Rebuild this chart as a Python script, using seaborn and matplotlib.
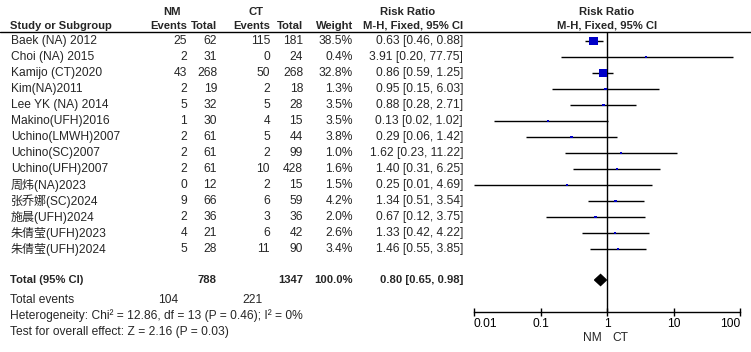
import matplotlib
matplotlib.use("Agg")
import matplotlib.pyplot as plt
import seaborn as sns
import numpy as np
import pandas as pd

# ---------------- data ----------------
studies = ["Baek (NA) 2012", "Choi (NA) 2015", "Kamijo (CT)2020", "Kim(NA)2011",
           "Lee YK (NA) 2014", "Makino(UFH)2016", "Uchino(LMWH)2007", "Uchino(SC)2007",
           "Uchino(UFH)2007", "周炜(NA)2023", "张乔娜(SC)2024", "施晨(UFH)2024",
           "朱倩莹(UFH)2023", "朱倩莹(UFH)2024"]
nm_events = [25, 2, 43, 2, 5, 1, 2, 2, 2, 0, 9, 2, 4, 5]
nm_total = [62, 31, 268, 19, 32, 30, 61, 61, 61, 12, 66, 36, 21, 28]
ct_events = [115, 0, 50, 2, 5, 4, 5, 2, 10, 2, 6, 3, 6, 11]
ct_total = [181, 24, 268, 18, 28, 15, 44, 99, 428, 15, 59, 36, 42, 90]
weights = [38.5, 0.4, 32.8, 1.3, 3.5, 3.5, 3.8, 1.0, 1.6, 1.5, 4.2, 2.0, 2.6, 3.4]
rr = [0.63, 3.91, 0.86, 0.95, 0.88, 0.13, 0.29, 1.62, 1.40, 0.25, 1.34, 0.67, 1.33, 1.46]
ci_lo = [0.46, 0.20, 0.59, 0.15, 0.28, 0.02, 0.06, 0.23, 0.31, 0.01, 0.51, 0.12, 0.42, 0.55]
ci_hi = [0.88, 77.75, 1.25, 6.03, 2.71, 1.02, 1.42, 11.22, 6.25, 4.69, 3.54, 3.75, 4.22, 3.85]

total_nm = 788
total_ct = 1347
total_weight = "100.0%"
total_rr, total_lo, total_hi = 0.80, 0.65, 0.98
events_nm = 104
events_ct = 221
heterogeneity = "Heterogeneity: Chi² = 12.86, df = 13 (P = 0.46); I² = 0%"
overall = "Test for overall effect: Z = 2.16 (P = 0.03)"
xticks = [0.01, 0.1, 1, 10, 100]
xtick_labels = ["0.01", "0.1", "1", "10", "100"]
favours = ["NM", "CT"]

# ---------------- style ----------------
sns.set_style("white")
plt.rcParams["font.family"] = ["Liberation Sans", "Noto Sans CJK SC", "DejaVu Sans"]
FS = 8.65
FSB = 8.1
W, H = 751, 352
fig = plt.figure(figsize=(W / 100, H / 100), dpi=100)
fig.patch.set_facecolor("white")

tab = fig.add_axes([0, 0, 1, 1])
tab.set_xlim(0, W)
tab.set_ylim(H, 0)
tab.axis("off")

row0, step = 41, 16
ys = [row0 + step * i for i in range(len(studies))]

# header
hdr_y1, hdr_y2, line_y = 12, 26, 32
bold = dict(fontsize=FSB, fontweight="bold", va="center")
tab.text(172, hdr_y1, "NM", ha="center", **bold)
tab.text(256, hdr_y1, "CT", ha="center", **bold)
tab.text(408, hdr_y1, "Risk Ratio", ha="center", **bold)
tab.text(607, hdr_y1, "Risk Ratio", ha="center", **bold)
tab.text(10, hdr_y2, "Study or Subgroup", ha="left", **bold)
col_x = [187, 217, 270, 303, 353]
for x, lab in zip(col_x, ["Events", "Total", "Events", "Total", "Weight"]):
    tab.text(x, hdr_y2, lab, ha="right", **bold)
tab.text(463, hdr_y2, "M-H, Fixed, 95% CI", ha="right", **bold)
tab.text(607, hdr_y2, "M-H, Fixed, 95% CI", ha="center", **bold)
tab.plot([0, W], [line_y, line_y], color="black", lw=1.0)

norm = dict(fontsize=FS, va="center")
for i, y in enumerate(ys):
    tab.text(11, y, studies[i], ha="left", **norm)
    tab.text(187, y, str(nm_events[i]), ha="right", **norm)
    tab.text(217, y, str(nm_total[i]), ha="right", **norm)
    tab.text(270, y, str(ct_events[i]), ha="right", **norm)
    tab.text(303, y, str(ct_total[i]), ha="right", **norm)
    tab.text(353, y, f"{weights[i]:.1f}%", ha="right", **norm)
    tab.text(463, y, f"{rr[i]:.2f} [{ci_lo[i]:.2f}, {ci_hi[i]:.2f}]", ha="right", **norm)

tot_y = 280
tab.text(10, tot_y, "Total (95% CI)", ha="left", **bold)
tab.text(217, tot_y, str(total_nm), ha="right", **bold)
tab.text(303, tot_y, str(total_ct), ha="right", **bold)
tab.text(353, tot_y, total_weight, ha="right", **bold)
tab.text(463, tot_y, f"{total_rr:.2f} [{total_lo:.2f}, {total_hi:.2f}]", ha="right", **bold)
tab.text(10, 300, "Total events", ha="left", **norm)
tab.text(178, 300, str(events_nm), ha="right", **norm)
tab.text(263, 300, str(events_ct), ha="right", **norm)
tab.text(10, 316, heterogeneity, ha="left", **norm)
tab.text(10, 332, overall, ha="left", **norm)

# ---------------- forest panel ----------------
fax = fig.add_axes([474 / W, 0, 266 / W, 1])
fax.set_facecolor("none")
fax.set_xscale("log")
fax.set_xlim(xticks[0], xticks[-1])
fax.set_ylim(H, 0)
for s in ["left", "right", "top"]:
    fax.spines[s].set_visible(False)
axis_y = 312
fax.spines["bottom"].set_position(("data", axis_y))
fax.spines["bottom"].set_linewidth(1.0)
fax.spines["bottom"].set_color("black")
fax.set_yticks([])
fax.set_xticks(xticks)
fax.set_xticklabels(xtick_labels)
fax.minorticks_off()
fax.tick_params(axis="x", which="major", bottom=True, direction="inout", length=6,
                width=1.0, pad=1.0, labelsize=FS, color="black", labelcolor="black")
labs = fax.get_xticklabels()
labs[0].set_ha("left")
labs[-1].set_ha("right")

fax.vlines(1, line_y, axis_y, color="black", lw=1.0)
fax.hlines(ys, ci_lo, ci_hi, color="black", lw=1.0)

side_px = [max(2.2, 8.5 * np.sqrt(w / max(weights))) for w in weights]
sizes = [(p * 72 / 100) ** 2 for p in side_px]
df = pd.DataFrame({"rr": rr, "y": ys})
sns.scatterplot(data=df, x="rr", y="y", marker="s", s=sizes, color="#0000C8",
                edgecolor="#0000C8", linewidth=0, ax=fax, legend=False, zorder=3)
fax.set_xlabel("")
fax.set_ylabel("")

# diamond
dh = 5.5
fax.fill([total_lo, total_rr, total_hi, total_rr],
         [tot_y, tot_y - dh, tot_y, tot_y + dh], color="black", zorder=3)

tab.text(592, 338, favours[0], ha="center", **norm)
tab.text(620, 338, favours[1], ha="center", **norm)

fig.savefig("out.png", dpi=100, facecolor="white")
